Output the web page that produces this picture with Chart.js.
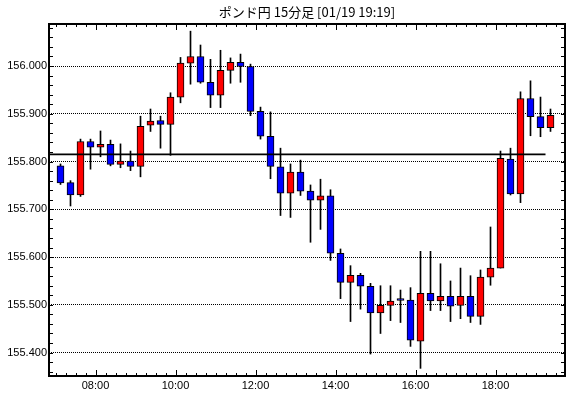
<!DOCTYPE html>
<html>
<head>
<meta charset="utf-8">
<script src="https://cdn.jsdelivr.net/npm/chart.js@4"></script>
<style>
html, body { margin: 0; padding: 0; background: #fff; }
#wrap { width: 570px; height: 398px; }
</style>
</head>
<body>
<div id="wrap"><canvas id="chart"></canvas></div>
<script>
// 15分足 (ポンド円) 07:00 - 19:15
const times = [
    '07:00', '07:15', '07:30', '07:45', '08:00', '08:15', '08:30', '08:45',
    '09:00', '09:15', '09:30', '09:45', '10:00', '10:15', '10:30', '10:45',
    '11:00', '11:15', '11:30', '11:45', '12:00', '12:15', '12:30', '12:45',
    '13:00', '13:15', '13:30', '13:45', '14:00', '14:15', '14:30', '14:45',
    '15:00', '15:15', '15:30', '15:45', '16:00', '16:15', '16:30', '16:45',
    '17:00', '17:15', '17:30', '17:45', '18:00', '18:15', '18:30', '18:45',
    '19:00', '19:15'
];
const opens = [
    155.791, 155.756, 155.730, 155.842, 155.830, 155.836, 155.794, 155.801,
    155.790, 155.876, 155.886, 155.878, 155.935, 156.006, 156.020, 155.966,
    155.939, 155.991, 156.008, 155.999, 155.905, 155.853, 155.789, 155.734,
    155.778, 155.738, 155.719, 155.728, 155.608, 155.547, 155.562, 155.539,
    155.483, 155.499, 155.510, 155.510, 155.424, 155.524, 155.508, 155.518,
    155.499, 155.518, 155.476, 155.558, 155.577, 155.805, 155.732, 155.932,
    155.894, 155.871
];
const highs = [
    155.795, 155.760, 155.847, 155.847, 155.864, 155.845, 155.837, 155.822,
    155.895, 155.910, 155.895, 155.944, 156.018, 156.073, 156.044, 156.014,
    156.033, 156.017, 156.025, 156.004, 155.914, 155.904, 155.828, 155.795,
    155.803, 155.751, 155.763, 155.741, 155.617, 155.582, 155.566, 155.545,
    155.540, 155.540, 155.531, 155.536, 155.612, 155.612, 155.586, 155.550,
    155.577, 155.561, 155.573, 155.663, 155.822, 155.828, 155.946, 155.969,
    155.935, 155.910
];
const lows = [
    155.752, 155.707, 155.727, 155.784, 155.810, 155.791, 155.787, 155.781,
    155.768, 155.863, 155.828, 155.813, 155.923, 155.962, 155.964, 155.913,
    155.913, 155.964, 155.966, 155.896, 155.847, 155.764, 155.687, 155.683,
    155.729, 155.631, 155.658, 155.593, 155.513, 155.465, 155.491, 155.397,
    155.440, 155.467, 155.463, 155.413, 155.367, 155.488, 155.488, 155.465,
    155.471, 155.463, 155.459, 155.541, 155.577, 155.730, 155.714, 155.854,
    155.852, 155.863
];
const closes = [
    155.755, 155.730, 155.842, 155.830, 155.836, 155.794, 155.801, 155.790,
    155.874, 155.885, 155.878, 155.935, 156.006, 156.020, 155.966, 155.939,
    155.991, 156.008, 155.999, 155.905, 155.853, 155.790, 155.734, 155.778,
    155.738, 155.719, 155.728, 155.608, 155.547, 155.562, 155.539, 155.483,
    155.499, 155.508, 155.509, 155.426, 155.524, 155.508, 155.518, 155.497,
    155.518, 155.476, 155.558, 155.577, 155.807, 155.732, 155.932, 155.894,
    155.871, 155.897
];
const refPrice = 155.815;
const xLabels = ['08:00', '10:00', '12:00', '14:00', '16:00', '18:00'];
const yLabels = [155.4, 155.5, 155.6, 155.7, 155.8, 155.9, 156.0];
const titleText = 'ポンド円 15分足 [01/19 19:19]';

const toMin = s => Number(s.slice(0, 2)) * 60 + Number(s.slice(3, 5));
const xMin = 410.25;
const xMax = 1184.25;
const yMin = 155.351;
const yMax = 156.088;
const half = 7.5; // 足の中央

const isMajor = v => yLabels.some(l => Math.abs(l - v) < 1e-6);

const bodies = times.map((t, i) => ({ x: toMin(t) + half, y: [opens[i], closes[i]] }));
const wicks = times.map((t, i) => ({ x: toMin(t) + half, y: [lows[i], highs[i]] }));
const bodyColors = times.map((t, i) => closes[i] >= opens[i] ? '#ff0000' : '#0000ff');

// 枠と内向きの目盛り
const framePlugin = {
    id: 'frame',
    afterDraw(chart) {
        const { ctx, chartArea: a, scales: { x, y } } = chart;
        ctx.save();
        ctx.strokeStyle = '#000';
        ctx.lineWidth = 1;
        ctx.beginPath();
        y.ticks.forEach(t => {
            const py = Math.round(y.getPixelForValue(t.value)) + 0.5;
            ctx.moveTo(a.left, py); ctx.lineTo(a.left + 4, py);
            ctx.moveTo(a.right - 4, py); ctx.lineTo(a.right, py);
        });
        for (let m = toMin('07:00'); m < xMax; m += 15) {
            const px = Math.round(x.getPixelForValue(m)) + 0.5;
            const len = (m - toMin('08:00')) % 120 === 0 ? 6 : 3;
            ctx.moveTo(px, a.bottom); ctx.lineTo(px, a.bottom - len);
            ctx.moveTo(px, a.top); ctx.lineTo(px, a.top + len);
        }
        ctx.stroke();
        ctx.lineWidth = 2;
        ctx.strokeRect(a.left, a.top, a.right - a.left, a.bottom - a.top);
        ctx.restore();
    }
};

const labelFont = { family: '"Liberation Sans", Arial, sans-serif', size: 11 };

new Chart(document.getElementById('chart'), {
    type: 'bar',
    data: {
        datasets: [
            {
                type: 'line',
                data: [{ x: xMin, y: refPrice }, { x: toMin(times[times.length - 1]), y: refPrice }],
                borderColor: '#000',
                borderWidth: 1.6,
                pointRadius: 0,
                order: 0
            },
            {
                data: bodies,
                backgroundColor: bodyColors,
                borderColor: '#000',
                borderWidth: 1,
                borderSkipped: false,
                barThickness: 7,
                minBarLength: 2,
                grouped: false,
                order: 1
            },
            {
                data: wicks,
                backgroundColor: '#000',
                borderWidth: 0,
                barThickness: 1,
                grouped: false,
                order: 2
            }
        ]
    },
    options: {
        responsive: true,
        maintainAspectRatio: false,
        devicePixelRatio: 1,
        animation: false,
        layout: { padding: { left: 0, right: 5, top: 0, bottom: 0 } },
        plugins: {
            legend: { display: false },
            tooltip: { enabled: false },
            title: {
                display: true,
                text: titleText,
                color: '#000',
                fullSize: false,
                font: { family: '"Noto Sans CJK JP", sans-serif', size: 13, weight: 'normal' },
                padding: { top: 4, bottom: 4.4 }
            }
        },
        scales: {
            x: {
                type: 'linear',
                min: xMin,
                max: xMax,
                offset: false,
                grid: { display: false, drawTicks: false },
                border: { display: false },
                afterBuildTicks: s => { s.ticks = xLabels.map(l => ({ value: toMin(l) })); },
                afterFit: s => { s.height = 22; },
                ticks: {
                    autoSkip: false,
                    maxRotation: 0,
                    padding: 3,
                    color: '#000',
                    font: labelFont,
                    callback: (v, i) => xLabels[i]
                }
            },
            y: {
                min: yMin,
                max: yMax,
                beginAtZero: false,
                afterBuildTicks: s => {
                    const ticks = [];
                    for (let v = 155.36; v < yMax; v += 0.02) ticks.push({ value: Math.round(v * 100) / 100 });
                    s.ticks = ticks;
                },
                afterFit: s => { s.width = 49; },
                grid: {
                    drawTicks: false,
                    lineWidth: 1,
                    color: c => (c.tick && isMajor(c.tick.value)) ? '#000' : 'rgba(0,0,0,0)'
                },
                border: { display: false, dash: [1, 1] },
                ticks: {
                    autoSkip: false,
                    padding: 2,
                    color: '#000',
                    font: labelFont,
                    callback: v => isMajor(v) ? v.toFixed(3) : ''
                }
            }
        }
    },
    plugins: [framePlugin]
});
</script>
</body>
</html>
